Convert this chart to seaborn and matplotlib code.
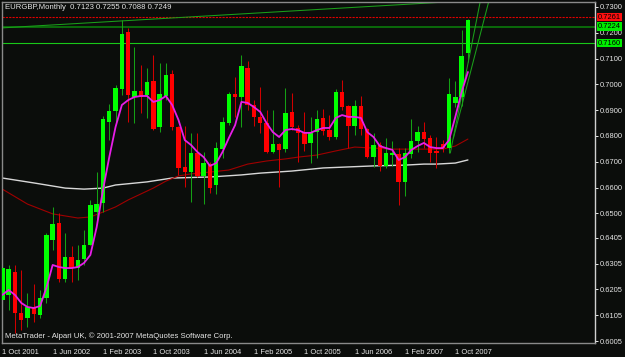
import numpy as np
import pandas as pd
import matplotlib
matplotlib.use("Agg")
import matplotlib.pyplot as plt
import matplotlib.transforms as mtransforms
import seaborn as sns

# ---------------- data ----------------
symbol_title = "EURGBP,Monthly  0.7123 0.7255 0.7088 0.7249"
footer = "MetaTrader - Alpari UK, \u00a9 2001-2007 MetaQuotes Software Corp."

months = pd.date_range("2001-10-01", periods=75, freq="MS")

opens = [.6164, .6184, .6273, .6114, .6094, .6137, .6106, .6172, .6397, .6463,
         .6246, .6331, .6288, .6323, .6377, .6505, .6540, .6854, .6897, .6982,
         .7203, .6951, .6974, .6959, .7013, .6835, .6955, .7040, .6835, .6680,
         .6660, .6734, .6645, .6691, .6610, .6750, .6850, .6963, .6951, .7064,
         .6920, .6874, .6850, .6738, .6769, .6750, .6893, .6831, .6815, .6773,
         .6815, .6870, .6823, .6796, .6970, .6916, .6839, .6916, .6827, .6719,
         .6765, .6684, .6726, .6730, .6622, .6730, .6781, .6815, .6792, .6742,
         .6769, .6753, .6928, .6951, .7123]
highs = [.6300, .6300, .6300, .6280, .6191, .6226, .6203, .6424, .6525, .6501,
         .6424, .6374, .6377, .6436, .6552, .6660, .6877, .6924, .6998, .7250,
         .7219, .7145, .7075, .7064, .7114, .7083, .7083, .7056, .6839, .6839,
         .6812, .6812, .6738, .6699, .6777, .6874, .6970, .7029, .7114, .7091,
         .6939, .6990, .6901, .6901, .6773, .6986, .6967, .6843, .6893, .6874,
         .6901, .6905, .6881, .6982, .7017, .6920, .6939, .6955, .6831, .6812,
         .6777, .6792, .6781, .6753, .6753, .6866, .6839, .6854, .6804, .6796,
         .6784, .7025, .7013, .7211, .7255]
lows = [.6145, .6125, .6036, .6048, .6060, .6079, .6094, .6153, .6358, .6234,
        .6234, .6234, .6242, .6300, .6377, .6467, .6505, .6784, .6854, .6959,
        .6854, .6850, .6889, .6870, .6823, .6815, .6939, .6823, .6649, .6602,
        .6544, .6641, .6536, .6579, .6575, .6715, .6843, .6874, .6835, .6901,
        .6839, .6812, .6734, .6734, .6602, .6738, .6823, .6699, .6742, .6695,
        .6715, .6804, .6784, .6788, .6901, .6753, .6804, .6804, .6715, .6680,
        .6664, .6676, .6684, .6532, .6567, .6715, .6738, .6753, .6699, .6676,
        .6738, .6734, .6912, .6916, .7088]
closes = [.6288, .6284, .6114, .6087, .6137, .6110, .6172, .6416, .6459, .6246,
          .6331, .6288, .6319, .6377, .6532, .6536, .6866, .6897, .6986, .7195,
          .6959, .6974, .6951, .7009, .6827, .6963, .7036, .6835, .6676, .6660,
          .6734, .6645, .6695, .6598, .6753, .6854, .6963, .6951, .7071, .6920,
          .6874, .6850, .6738, .6769, .6746, .6889, .6835, .6812, .6769, .6812,
          .6866, .6819, .6796, .6970, .6912, .6839, .6916, .6827, .6719, .6765,
          .6684, .6734, .6734, .6622, .6734, .6781, .6815, .6788, .6734, .6734,
          .6753, .6963, .6951, .7110, .7249]

# fast moving average (magenta), one value per month
ma_fast = [.6184, .6203, .6184, .6153, .6137, .6133, .6141, .6211, .6300, .6292,
           .6288, .6288, .6292, .6308, .6339, .6447, .6591, .6718, .6835, .6920,
           .6939, .6951, .6955, .6955, .6932, .6939, .6955, .6920, .6862, .6784,
           .6765, .6738, .6718, .6684, .6695, .6738, .6792, .6842, .6932, .6928,
           .6912, .6893, .6850, .6815, .6796, .6823, .6827, .6823, .6812, .6812,
           .6823, .6831, .6831, .6870, .6881, .6874, .6874, .6870, .6815, .6796,
           .6761, .6753, .6746, .6707, .6718, .6746, .6761, .6773, .6757, .6753,
           .6753, .6784, .6874, .6970, .7048]

# slow moving average (dark red), read at these month numbers
ma_red_month = [0, 4, 8, 12, 14, 16, 18, 20, 22, 24, 26, 28, 30, 33, 36, 39, 42,
                45, 47, 50, 53, 56, 59, 62, 65, 68, 70, 72, 74]
ma_red = [.6594, .6536, .6498, .6482, .6486, .6505, .6525, .6552, .6575, .6598,
          .6625, .6645, .6653, .6660, .6668, .6691, .6703, .6711, .6718, .6726,
          .6742, .6757, .6753, .6749, .6749, .6749, .6749, .6761, .6788]

# long moving average (white), read at these month numbers
ma_white_month = [0, 5, 10, 13, 16, 18, 23, 27, 33, 38, 41, 46, 51, 55, 59, 64,
                  67, 69, 72, 74]
ma_white = [.6637, .6618, .6598, .6594, .6598, .6610, .6622, .6637, .6641, .6649,
            .6656, .6664, .6676, .6680, .6684, .6687, .6691, .6691, .6695, .6707]

# horizontal price levels
level_ask = 0.7261
level_dark = 0.7224
level_green = 0.7160

# trend lines: (month, price) endpoints
trend_top = [(0, 0.7219), (69.6, 0.7318)]
trend_a = [(71.2, 0.6734), (75.95, 0.7320)]
trend_b = [(71.7, 0.6792), (77.3, 0.7320)]

y_ticks = [0.7300, 0.7200, 0.7100, 0.7000, 0.6900, 0.6800, 0.6700, 0.6600,
           0.6500, 0.6405, 0.6305, 0.6205, 0.6105, 0.6005]
x_tick_labels = ["1 Oct 2001", "1 Jun 2002", "1 Feb 2003", "1 Oct 2003",
                 "1 Jun 2004", "1 Feb 2005", "1 Oct 2005", "1 Jun 2006",
                 "1 Feb 2007", "1 Oct 2007"]

# ---------------- drawing ----------------
sns.set_theme(style="dark")
plt.rcParams["font.family"] = ["Liberation Sans", "DejaVu Sans"]

BG = "#0b0d0b"
FG = "#e6e6e6"
fig = plt.figure(figsize=(6.25, 3.57), dpi=100, facecolor=BG)
ax = fig.add_axes([2 / 625, 1 - 343 / 357, 593 / 625, 341 / 357])
ax.set_facecolor(BG)
ax.grid(False)

o = np.array(opens); h = np.array(highs); l = np.array(lows); c = np.array(closes)
x = np.arange(len(months))
up = c >= o

ax.vlines(x[up], l[up], h[up], color="#14a014", lw=0.75, zorder=2)
ax.vlines(x[~up], l[~up], h[~up], color="#d00000", lw=0.75, zorder=2)
bottom = np.minimum(o, c)
height = np.maximum(np.abs(c - o), 0.00025)
ax.bar(x[up], height[up], bottom=bottom[up], width=0.7, color="#00ff00",
       edgecolor="none", zorder=3)
ax.bar(x[~up], height[~up], bottom=bottom[~up], width=0.7, color="#ff0000",
       edgecolor="none", zorder=3)

sns.lineplot(x=ma_white_month, y=ma_white, color="#d8d8d8", lw=1.0, ax=ax,
             zorder=1, legend=False)
sns.lineplot(x=ma_red_month, y=ma_red, color="#a00000", lw=0.8, ax=ax,
             zorder=1, legend=False)
sns.lineplot(x=x, y=ma_fast, color="#e81ee8", lw=1.3, ax=ax, zorder=4,
             legend=False)

ax.axhline(level_ask, color="#e00000", lw=0.8, ls=(0, (2, 1)), zorder=1)
ax.axhline(level_dark, color="#0a6a0a", lw=1.4, zorder=1)
ax.axhline(level_green, color="#19c819", lw=0.8, zorder=1)

for i, ((x0, y0), (x1, y1)) in enumerate([trend_top, trend_a, trend_b]):
    slope = (y1 - y0) / (x1 - x0)
    xs = x0 - 1 if i == 0 else x0
    xe = 96 if i == 0 else x1 + 1
    ax.plot([xs, xe], [y0 + slope * (xs - x0), y0 + slope * (xe - x0)],
            color="#1aa01a", lw=0.75, zorder=2)

ax.set_xlim(-0.05, 94.2)
ax.set_ylim(0.59975, 0.73193)

# axes / ticks
for s in ["left", "top", "bottom"]:
    ax.spines[s].set_color("#8a8a8a")
    ax.spines[s].set_linewidth(1.0)
ax.spines["right"].set_color("#d0d0d0")
ax.spines["right"].set_linewidth(1.0)

ax.yaxis.tick_right()
ax.set_yticks(y_ticks)
ax.set_yticklabels([f"{v:.4f}" for v in y_ticks])
ax.tick_params(axis="y", colors=FG, labelsize=5.4, length=2.5, width=0.7, pad=1.2,
               labelcolor=FG, direction="out")

lbl = months.strftime("%b %Y")
tick_pos = [int(np.where(lbl == t.split(" ", 1)[1])[0][0]) for t in x_tick_labels]
ax.set_xticks(tick_pos)
ax.set_xticklabels(x_tick_labels)
ax.tick_params(axis="x", colors=FG, labelsize=5.4, length=3, width=0.7, pad=1.2,
               labelcolor=FG, direction="out")
for t in ax.get_xticklabels():
    t.set_ha("left")
ax.set_xlabel(""); ax.set_ylabel("")

# price label boxes on the right scale
trans = mtransforms.blended_transform_factory(ax.transAxes, ax.transData)
for val, col in [(level_ask, "#ff1010"), (level_dark, "#00ee00"), (level_green, "#00ee00")]:
    ax.text(1.0045, val, f"{val:.4f}", transform=trans, fontsize=5.4, color="black",
            va="center", ha="left", clip_on=False, zorder=10,
            bbox=dict(boxstyle="square,pad=0.12", fc=col, ec="none"))

fig.text(5 / 625, 1 - 7.5 / 357, symbol_title, color=FG, fontsize=5.6, va="center", ha="left")
fig.text(5 / 625, 1 - 336.5 / 357, footer, color=FG, fontsize=5.6, va="center", ha="left")

fig.savefig("out.png", dpi=100, facecolor=BG)
